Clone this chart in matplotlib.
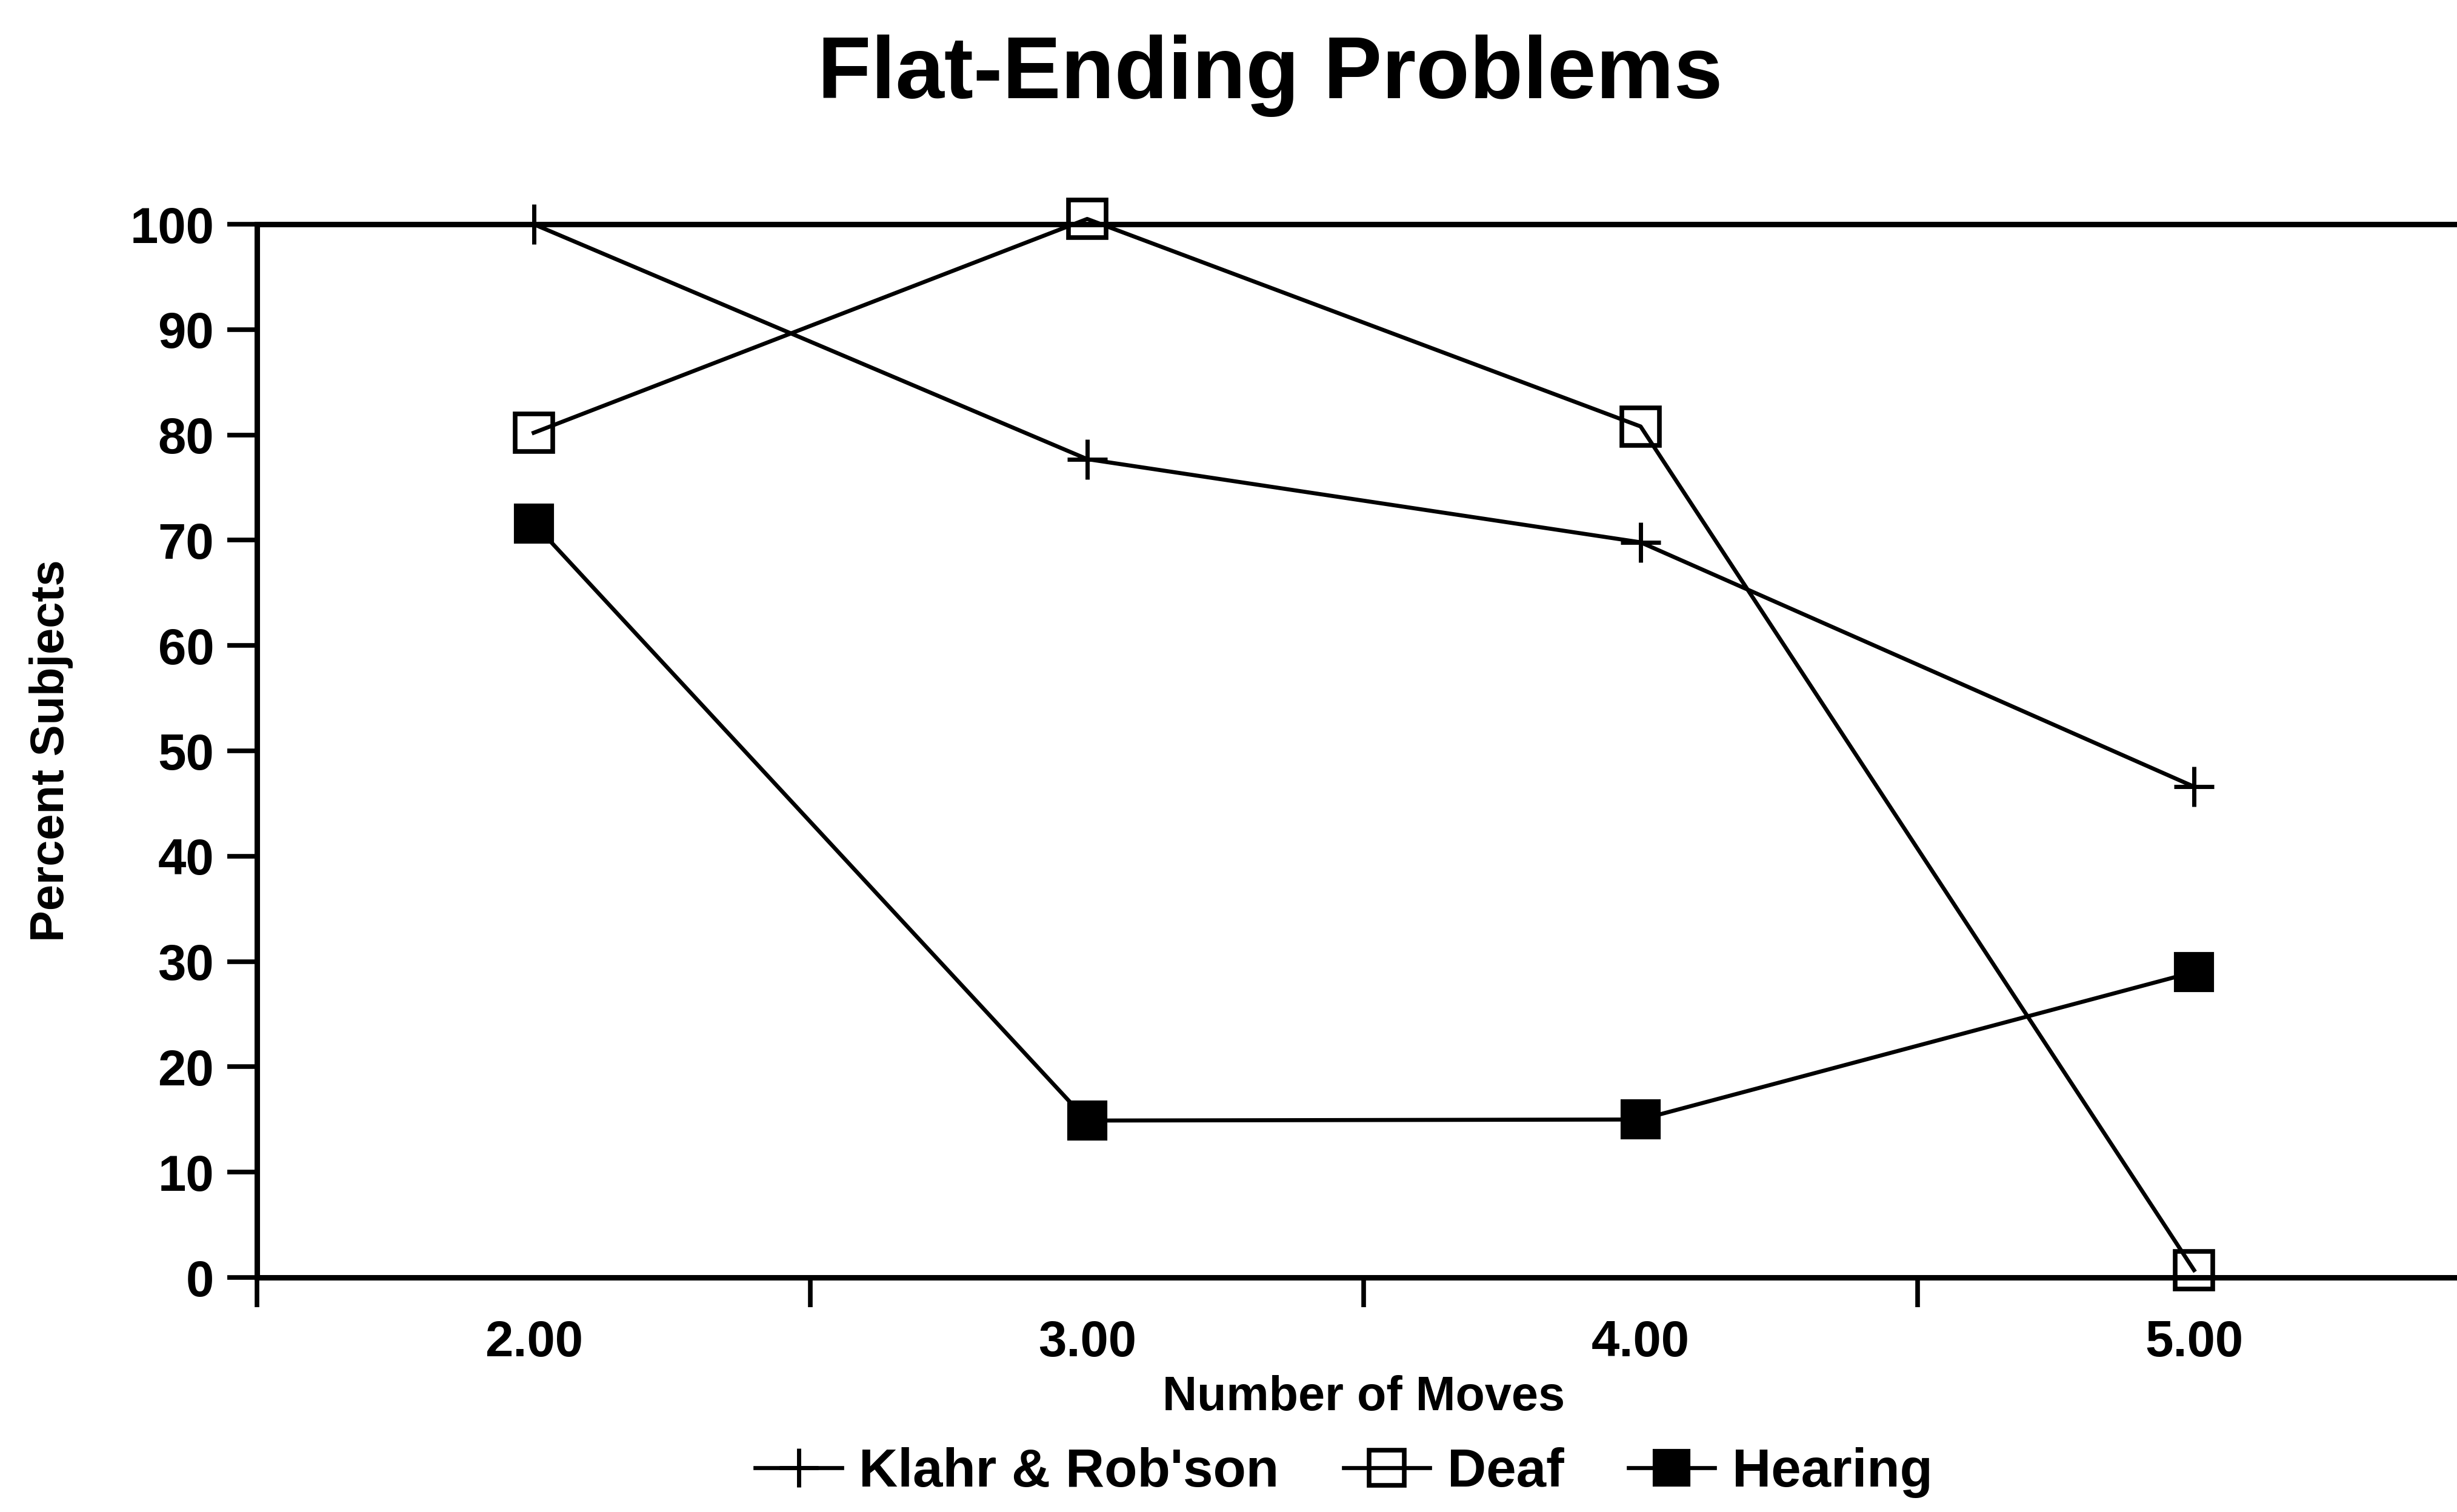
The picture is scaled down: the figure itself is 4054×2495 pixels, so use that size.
import matplotlib
matplotlib.use("Agg")
import matplotlib.pyplot as plt

# ---------------------------------------
# data
# ---------------------------------------
moves = [2, 3, 4, 5]
move_labels = ["2.00", "3.00", "4.00", "5.00"]
klahr = [100, 77.7, 69.8, 46.6]
deaf = [80.2, 100.5, 80.8, 0.7]
hearing = [71.6, 14.9, 15.0, 29.0]
series_names = ["Klahr & Rob'son", "Deaf", "Hearing"]
y_ticks = list(range(0, 101, 10))

plt.rcParams['font.family'] = ['Liberation Sans', 'DejaVu Sans']
plt.rcParams['font.weight'] = 'bold'

fig = plt.figure(figsize=(40.54, 24.95), dpi=100)
ax = fig.add_axes([0.1046, 0.1551, 0.9010, 0.6966])

lw = 4.8
ax.plot(moves, klahr, color='black', lw=lw, marker='+', ms=48, mew=5,
        clip_on=False, label=series_names[0], zorder=5)
ax.plot(moves, deaf, color='black', lw=lw, marker='s', ms=44, mew=5.5,
        mfc='none', mec='black', clip_on=False, label=series_names[1], zorder=5)
ax.plot(moves, hearing, color='black', lw=lw, marker='s', ms=44, mew=3,
        mfc='black', mec='black', clip_on=False, label=series_names[2], zorder=5)

ax.set_xlim(1.5, 5.5)
ax.set_ylim(0, 100)

# major ticks sit between categories, labels sit on categories
ax.set_xticks([1.5, 2.5, 3.5, 4.5, 5.5])
ax.set_xticklabels([])
ax.set_xticks(moves, minor=True)
ax.set_xticklabels(move_labels, minor=True)
ax.tick_params(axis='x', which='major', direction='out', length=35, width=5.5)
ax.tick_params(axis='x', which='minor', length=0, pad=50, labelsize=60)

ax.set_yticks(y_ticks)
ax.set_yticklabels([str(v) for v in y_ticks])
ax.tick_params(axis='y', direction='out', length=35, width=5.5, pad=16, labelsize=60)

for side in ['left', 'bottom', 'top']:
    ax.spines[side].set_linewidth(6.5)
ax.spines['right'].set_visible(False)

ax.set_xlabel("Number of Moves", fontsize=57, fontweight='bold')
ax.xaxis.set_label_coords(0.5, -0.114)
ax.xaxis.label.set_va('center')
ax.set_ylabel("Percent Subjects", fontsize=56, fontweight='bold')
ax.yaxis.set_label_coords(-0.093, 0.5)
ax.yaxis.label.set_va('center')

fig.text(0.517, 0.935, "Flat-Ending Problems", fontsize=104, fontweight='bold',
         ha='center', va='baseline')

leg = fig.legend(loc='center', bbox_to_anchor=(0.547, 0.026), ncol=3, frameon=False,
                 fontsize=64, handlelength=1.6, handletextpad=0.32, columnspacing=1.2,
                 markerscale=0.95)

fig.savefig("out.png", dpi=100)
